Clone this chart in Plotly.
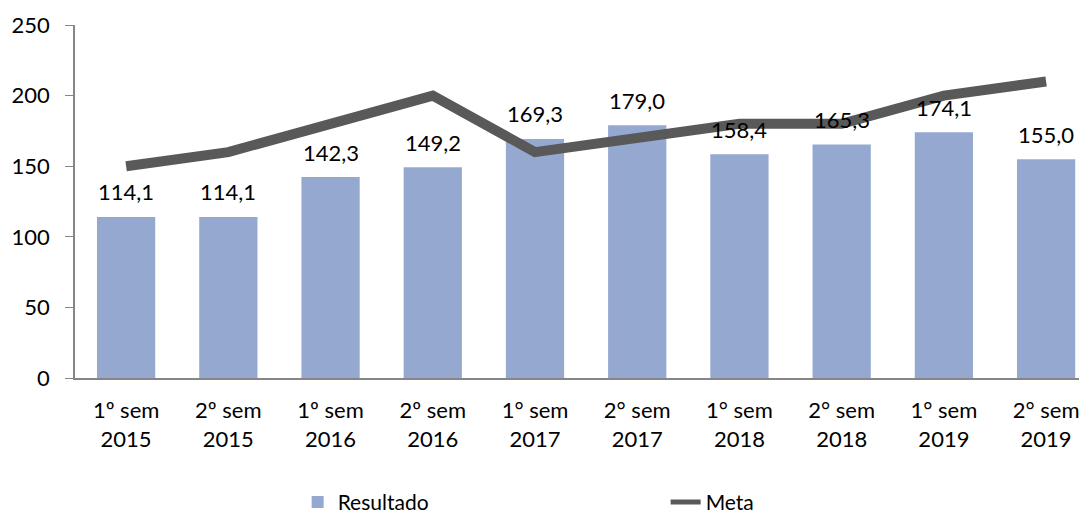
import plotly.graph_objects as go

categorias = [
    "1º sem<br>2015", "2º sem<br>2015", "1º sem<br>2016", "2º sem<br>2016",
    "1° sem<br>2017", "2° sem<br>2017", "1° sem<br>2018", "2° sem<br>2018",
    "1° sem<br>2019", "2° sem<br>2019",
]
resultado = [114.1, 114.1, 142.3, 149.2, 169.3, 179.0, 158.4, 165.3, 174.1, 155.0]
meta = [150, 160, 180, 200, 160, 170, 180, 180, 200, 210]

rotulos = [f"{v:.1f}".replace(".", ",") for v in resultado]

fig = go.Figure()
fig.add_trace(go.Bar(
    x=categorias, y=resultado, name="Resultado",
    marker=dict(color="#95A9D0", line=dict(width=0)),
))
fig.add_trace(go.Scatter(
    x=categorias, y=meta, name="Meta", mode="lines",
    line=dict(color="#595959", width=10),
))

# rótulos de dados acima das barras
for cat, val, txt in zip(categorias, resultado, rotulos):
    fig.add_annotation(
        x=cat, y=val, text=txt, showarrow=False,
        yanchor="middle", yshift=25, font=dict(size=22, color="#000000"),
    )

# a página tem margem de 8px no body, por isso o tamanho é um pouco menor
fig.update_layout(
    width=1079, height=510,
    margin=dict(l=67, r=0, t=17, b=140, autoexpand=False),
    paper_bgcolor="white", plot_bgcolor="white",
    font=dict(family="Lato, 'Open Sans', sans-serif", size=22, color="#000000"),
    bargap=0.43,
    showlegend=True,
    legend=dict(
        orientation="h", x=0.22, y=-0.352, xanchor="left", yanchor="middle",
        entrywidth=323, entrywidthmode="pixels",
        font=dict(size=21), itemsizing="constant",
    ),
)
fig.update_xaxes(
    range=[-0.5, 9.4],
    showline=True, linecolor="#868686", linewidth=1.5,
    ticks="", showgrid=False, ticklabelstandoff=12,
    tickfont=dict(size=22),
)
fig.update_yaxes(
    range=[0, 250], dtick=50, showline=True, linecolor="#868686", linewidth=1.5,
    ticks="outside", ticklen=8, tickcolor="#868686", showgrid=False,
    zeroline=False, ticklabelstandoff=11, tickfont=dict(size=22),
)

fig.write_html("out.html")
